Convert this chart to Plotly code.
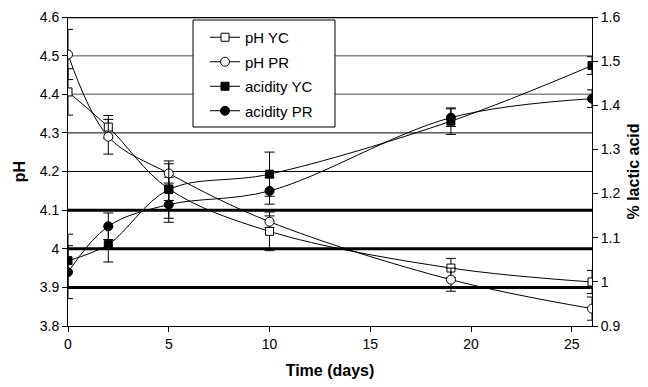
import plotly.graph_objects as go

days = [0, 2, 5, 10, 19, 26]
ph_yc = [4.406, 4.315, 4.155, 4.045, 3.95, 3.914]
ph_yc_err = [0.06, 0.03, 0.03, 0.05, 0.025, 0.03]
ph_pr = [4.503, 4.29, 4.195, 4.07, 3.92, 3.845]
ph_pr_err = [0.065, 0.045, 0.025, 0.015, 0.03, 0.03]
acid_yc = [1.048, 1.085, 1.209, 1.244, 1.364, 1.49]
acid_yc_err = [0.06, 0.04, 0.065, 0.05, 0.03, 0.02]
acid_pr = [1.022, 1.126, 1.175, 1.206, 1.372, 1.415]
acid_pr_err = [0.06, 0.03, 0.04, 0.03, 0.02, 0.02]

ph_ticks = [3.8, 3.9, 4.0, 4.1, 4.2, 4.3, 4.4, 4.5, 4.6]
ph_ticktext = ["3.8", "3.9", "4", "4.1", "4.2", "4.3", "4.4", "4.5", "4.6"]
acid_ticks = [0.9, 1.0, 1.1, 1.2, 1.3, 1.4, 1.5, 1.6]
acid_ticktext = ["0.9", "1", "1.1", "1.2", "1.3", "1.4", "1.5", "1.6"]
x_ticks = [0, 5, 10, 15, 20, 25]

# horizontal reference lines (pH value, colour, width)
grid_vals = [4.6, 4.5, 4.4, 4.3, 4.2, 4.1, 4.0, 3.9]
grid_cols = ["black", "#888888", "#888888", "black", "black", "black", "black", "black"]
grid_wids = [2.5, 1.5, 1.5, 1, 1, 3, 3, 3]

FONT = "Liberation Sans, Arial, sans-serif"

W, H = 648, 387
ML, MR, MT, MB = 68, 56, 17, 61
PW, PH = W - ML - MR, H - MT - MB

def px_x(p):
    return (p - ML) / PW

def px_y(p):
    return (H - MB - p) / PH

def err(vals):
    return dict(type="data", array=vals, visible=True, color="black", thickness=1, width=5)

fig = go.Figure()
series = [
    ("pH YC", ph_yc, ph_yc_err, "y", "square", "white", 8),
    ("pH PR", ph_pr, ph_pr_err, "y", "circle", "white", 9),
    ("acidity YC", acid_yc, acid_yc_err, "y2", "square", "black", 8),
    ("acidity PR", acid_pr, acid_pr_err, "y2", "circle", "black", 9),
]
for i, (name, vals, e, ax, sym, fill, sz) in enumerate(series):
    fig.add_trace(go.Scatter(
        x=days, y=vals, name=name, yaxis=ax, mode="lines+markers",
        line=dict(color="black", width=1, shape="spline"),
        marker=dict(symbol=sym, size=sz, color=fill, line=dict(color="black", width=1)),
        error_y=err(e), legendgroup="g%d" % i,
    ))

for v, c, w in zip(grid_vals, grid_cols, grid_wids):
    fig.add_shape(type="line", xref="paper", yref="y", x0=0, x1=1, y0=v, y1=v,
                  line=dict(color=c, width=w), layer="below")

# legend frame
fig.add_shape(type="rect", xref="paper", yref="paper",
              x0=px_x(193), x1=px_x(335), y0=px_y(127), y1=px_y(20),
              fillcolor="white", line=dict(color="black", width=1), layer="above")

fig.update_layout(
    width=W, height=H,
    margin=dict(l=ML, r=MR, t=MT, b=MB),
    plot_bgcolor="white", paper_bgcolor="white",
    font=dict(family=FONT, size=14, color="black"),
    showlegend=True,
    legend=dict(x=px_x(205), y=px_y(21), xanchor="left", yanchor="top",
                bgcolor="rgba(0,0,0,0)", borderwidth=0,
                font=dict(size=15), traceorder="grouped", tracegroupgap=2,
                itemwidth=30),
    xaxis=dict(range=[0, 26], tickvals=x_ticks, showgrid=False, zeroline=False,
               showline=True, linecolor="black", linewidth=1, ticks="outside",
               ticklen=5, tickcolor="black",
               title=dict(text="<b>Time (days)</b>", font=dict(size=16), standoff=14),
               automargin=False),
    yaxis=dict(range=[3.8, 4.6], tickvals=ph_ticks, ticktext=ph_ticktext, showgrid=False,
               zeroline=False, showline=True, linecolor="black", linewidth=1,
               ticks="outside", ticklen=5, tickcolor="black",
               title=dict(text="<b>pH</b>", font=dict(size=16), standoff=10), automargin=False),
    yaxis2=dict(range=[0.9, 1.6], tickvals=acid_ticks, ticktext=acid_ticktext, overlaying="y",
                side="right", showgrid=False, zeroline=False, showline=True,
                linecolor="black", linewidth=1, ticks="outside", ticklen=5, tickcolor="black",
                title=dict(text="<b>% lactic acid</b>", font=dict(size=16), standoff=8),
                automargin=False),
)

fig.write_html("out.html")
